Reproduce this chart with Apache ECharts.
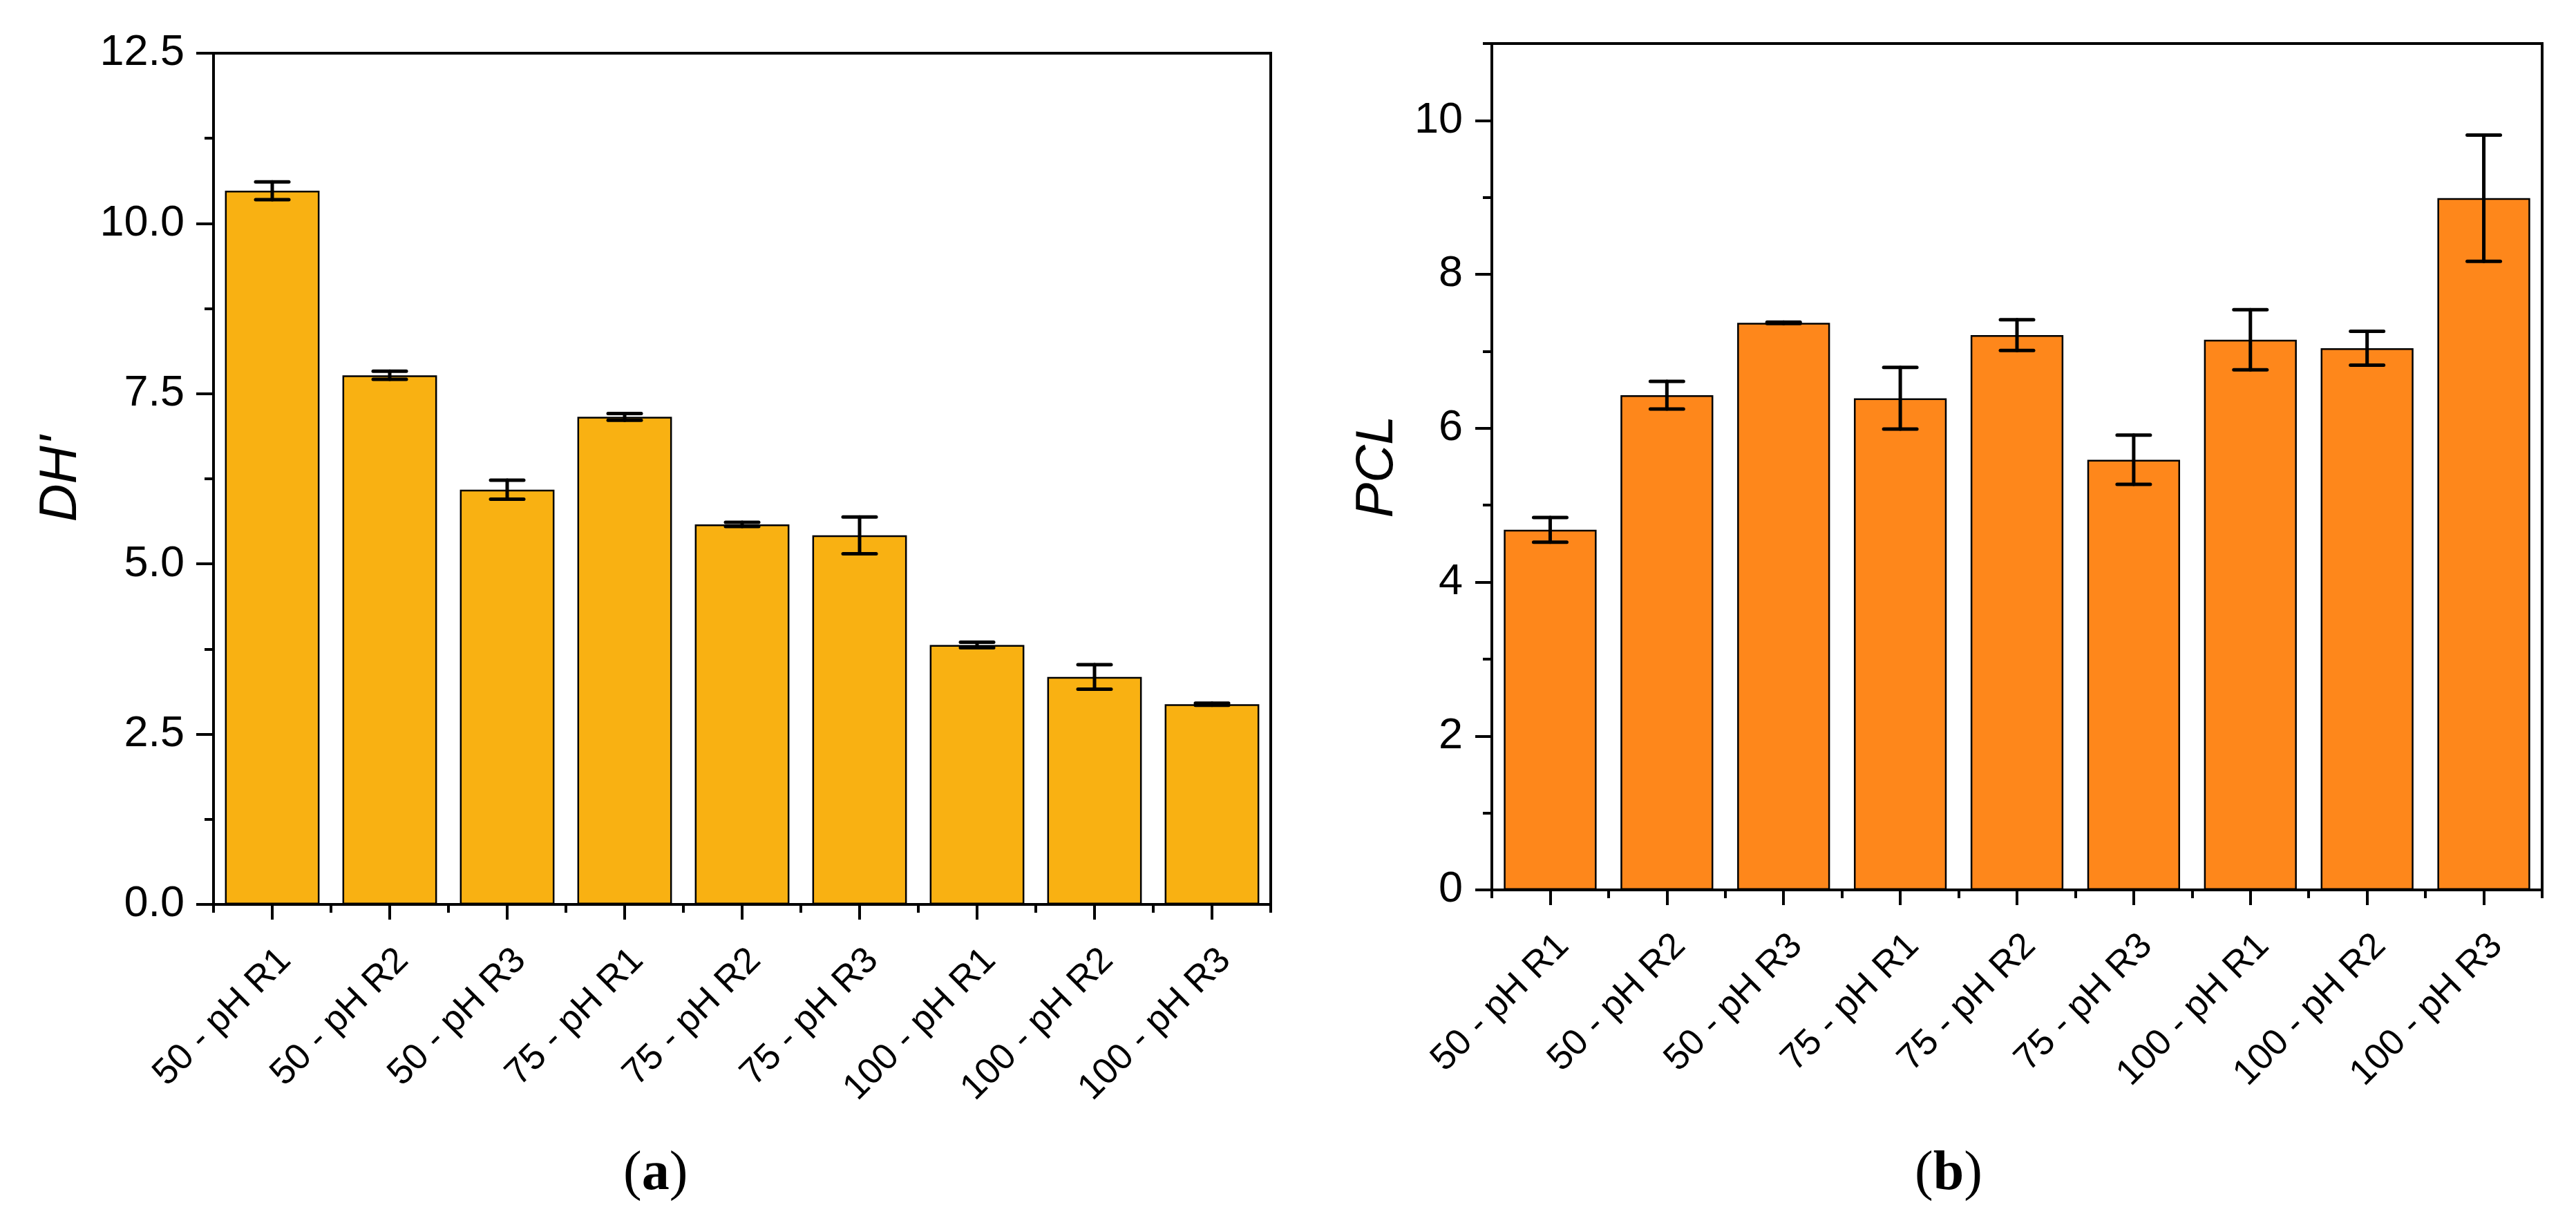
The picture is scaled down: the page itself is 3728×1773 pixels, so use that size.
<!DOCTYPE html>
<html><head><meta charset="utf-8">
<script src="https://cdn.jsdelivr.net/npm/echarts@6/dist/echarts.min.js"></script>
<style>html,body{margin:0;padding:0;background:#fff}#c{width:3728px;height:1773px}</style>
</head><body><div id="c"></div>
<script>
const categories = ['50 - pH R1','50 - pH R2','50 - pH R3','75 - pH R1','75 - pH R2','75 - pH R3','100 - pH R1','100 - pH R2','100 - pH R3'];
const dhValues = [10.48, 7.77, 6.09, 7.16, 5.58, 5.42, 3.81, 3.34, 2.94];
const dhErrors = [0.13, 0.06, 0.14, 0.05, 0.03, 0.27, 0.04, 0.18, 0.015];
const pclValues = [4.68, 6.43, 7.37, 6.39, 7.21, 5.59, 7.15, 7.04, 8.99];
const pclErrors = [0.16, 0.18, 0.01, 0.40, 0.20, 0.32, 0.39, 0.22, 0.82];
const dhTicks = [0, 2.5, 5, 7.5, 10, 12.5];
const pclTicks = [0, 2, 4, 6, 8, 10];
const pclMinorTicks = [1, 3, 5, 7, 9, 11];

const FONT = 'Liberation Sans, Arial, sans-serif';
const chart = echarts.init(document.getElementById('c'), null, {renderer: 'canvas'});

function majorX(gridIndex) {
  return {
    type: 'category', gridIndex, data: categories, position: 'bottom',
    axisLine: {show: true, lineStyle: {color: '#000', width: 4}},
    axisTick: {show: true, alignWithLabel: true, length: 22, lineStyle: {color: '#000', width: 4}},
    axisLabel: {show: true, rotate: 45, align: 'right', verticalAlign: 'top', margin: 54,
      fontSize: 53, fontFamily: FONT, color: '#000'},
    splitLine: {show: false}
  };
}
function minorX(gridIndex) {
  return {
    type: 'category', gridIndex, data: categories, position: 'bottom',
    axisLine: {show: false},
    axisTick: {show: true, alignWithLabel: false, length: 12, lineStyle: {color: '#000', width: 4}},
    axisLabel: {show: false}, splitLine: {show: false}
  };
}
function errRender(params, api) {
  const x = api.value(0), v = api.value(1), e = api.value(2);
  const t = api.coord([x, v + e]);
  const b = api.coord([x, v - e]);
  const hw = 24;
  const style = {stroke: '#000', lineWidth: 5, lineCap: 'round'};
  return {type: 'group', children: [
    {type: 'line', shape: {x1: t[0], y1: t[1], x2: b[0], y2: b[1]}, style},
    {type: 'line', shape: {x1: t[0] - hw, y1: t[1], x2: t[0] + hw, y2: t[1]}, style},
    {type: 'line', shape: {x1: b[0] - hw, y1: b[1], x2: b[0] + hw, y2: b[1]}, style}
  ]};
}

const option = {
  animation: false,
  backgroundColor: '#fff',
  grid: [
    {left: 309, top: 77, width: 1530, height: 1232, show: true, borderColor: '#000', borderWidth: 4, backgroundColor: 'transparent'},
    {left: 2159, top: 63, width: 1520, height: 1225, show: true, borderColor: '#000', borderWidth: 4, backgroundColor: 'transparent'}
  ],
  xAxis: [majorX(0), minorX(0), majorX(1), minorX(1)],
  yAxis: [
    {type: 'value', gridIndex: 0, position: 'left', min: 0, max: 12.5, interval: 2.5,
      name: "DH'", nameLocation: 'middle', nameGap: 182,
      nameTextStyle: {fontSize: 76, fontStyle: 'italic', fontFamily: FONT, color: '#000'},
      axisLine: {show: true, lineStyle: {color: '#000', width: 4}},
      axisTick: {show: true, length: 25, lineStyle: {color: '#000', width: 4}},
      axisLabel: {show: true, margin: 42, fontSize: 63, fontFamily: FONT, color: '#000',
        formatter: v => v.toFixed(1)},
      splitLine: {show: false}},
    {type: 'value', gridIndex: 0, position: 'left', min: 0, max: 12.5, interval: 1.25,
      axisLine: {show: false},
      axisTick: {show: true, length: 13, lineStyle: {color: '#000', width: 4}},
      axisLabel: {show: false}, splitLine: {show: false}},
    {type: 'value', gridIndex: 1, position: 'left', min: 0, max: 11,
      name: 'PCL', nameLocation: 'middle', nameGap: 127,
      nameTextStyle: {fontSize: 76, fontStyle: 'italic', fontFamily: FONT, color: '#000'},
      axisLine: {show: true, lineStyle: {color: '#000', width: 4}},
      axisTick: {show: true, length: 24, customValues: pclTicks, lineStyle: {color: '#000', width: 4}},
      axisLabel: {show: true, margin: 42, fontSize: 63, fontFamily: FONT, color: '#000', customValues: pclTicks},
      splitLine: {show: false}},
    {type: 'value', gridIndex: 1, position: 'left', min: 0, max: 11,
      axisLine: {show: false},
      axisTick: {show: true, length: 13, customValues: pclMinorTicks, lineStyle: {color: '#000', width: 4}},
      axisLabel: {show: false}, splitLine: {show: false}}
  ],
  series: [
    {type: 'bar', xAxisIndex: 0, yAxisIndex: 0, data: dhValues, barCategoryGap: '19.5%',
      itemStyle: {color: '#F9B112', borderColor: '#000', borderWidth: 2.5}, z: 2},
    {type: 'custom', xAxisIndex: 0, yAxisIndex: 0, renderItem: errRender, z: 5,
      data: dhValues.map((v, i) => [i, v, dhErrors[i]])},
    {type: 'bar', xAxisIndex: 2, yAxisIndex: 2, data: pclValues, barCategoryGap: '20.5%',
      itemStyle: {color: '#FE871B', borderColor: '#000', borderWidth: 2.5}, z: 2},
    {type: 'custom', xAxisIndex: 2, yAxisIndex: 2, renderItem: errRender, z: 5,
      data: pclValues.map((v, i) => [i, v, pclErrors[i]])}
  ],
  graphic: [
    {type: 'text', left: 947 - 45, top: 1660, style: {
      text: '({b|a})', fontSize: 80, fontFamily: 'Liberation Serif, Times New Roman, serif', fill: '#000',
      rich: {b: {fontWeight: 'bold', fontSize: 80, fontFamily: 'Liberation Serif, Times New Roman, serif'}}}},
    {type: 'text', left: 2818 - 47, top: 1660, style: {
      text: '({b|b})', fontSize: 80, fontFamily: 'Liberation Serif, Times New Roman, serif', fill: '#000',
      rich: {b: {fontWeight: 'bold', fontSize: 80, fontFamily: 'Liberation Serif, Times New Roman, serif'}}}}
  ]
};
chart.setOption(option);
</script></body></html>
